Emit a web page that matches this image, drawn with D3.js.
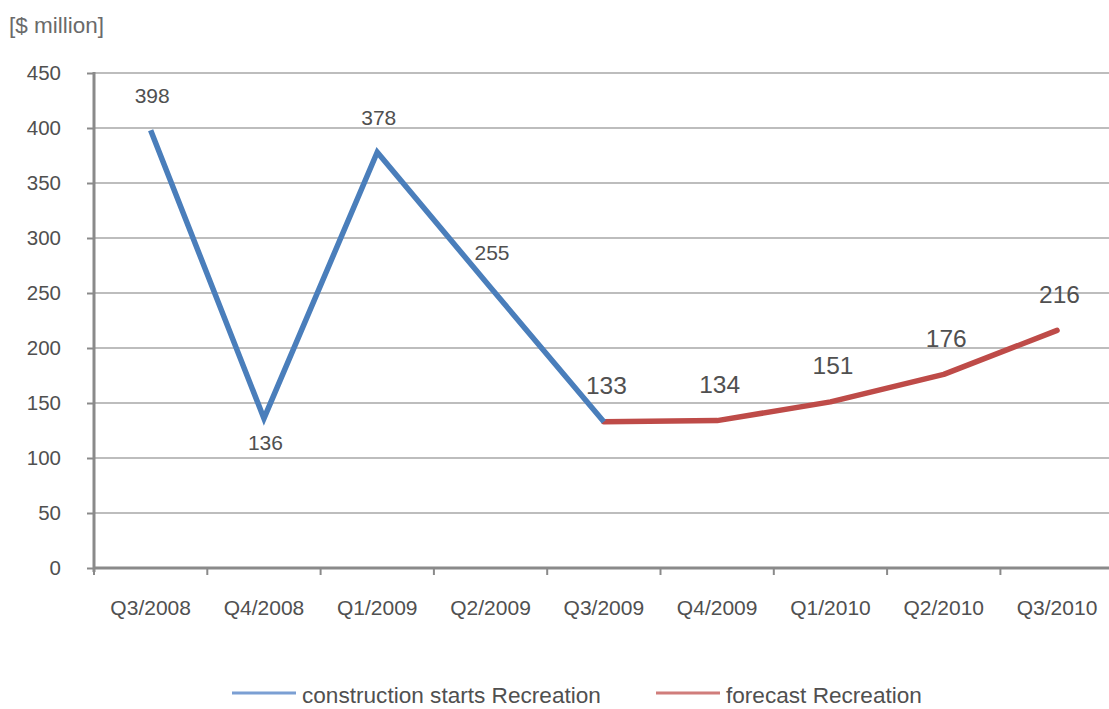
<!DOCTYPE html>
<html>
<head>
<meta charset="utf-8">
<script src="https://cdn.jsdelivr.net/npm/d3@7"></script>
<style>
  html, body { margin: 0; padding: 0; background: #fff; }
  svg { display: block; font-family: "Liberation Sans", Arial, sans-serif; }
</style>
</head>
<body>
<svg id="chart" width="1109" height="709"></svg>
<script>
// Quarterly construction starts (actual) and forecast, $ million
const quarters = ["Q3/2008", "Q4/2008", "Q1/2009", "Q2/2009", "Q3/2009",
                  "Q4/2009", "Q1/2010", "Q2/2010", "Q3/2010"];
const actualQuarters = ["Q3/2008", "Q4/2008", "Q1/2009", "Q2/2009", "Q3/2009"];
const actualValues = [398, 136, 378, 255, 133];
const forecastQuarters = ["Q3/2009", "Q4/2009", "Q1/2010", "Q2/2010", "Q3/2010"];
const forecastValues = [133, 134, 151, 176, 216];
const yTicks = [0, 50, 100, 150, 200, 250, 300, 350, 400, 450];
const seriesNames = ["construction starts Recreation", "forecast Recreation"];

const svg = d3.select("#chart");
const plotLeft = 94, plotTop = 73, plotBottom = 568;
const band = 113.3;
const plotRight = plotLeft + band * quarters.length;
const textColor = "#505050";
const axisColor = "#8a8a8a";

const x = d3.scaleBand().domain(quarters).range([plotLeft, plotRight]);
const y = d3.scaleLinear().domain([0, 450]).range([plotBottom, plotTop]);
const cx = q => x(q) + x.bandwidth() / 2;

// unit caption
svg.append("text").attr("x", 9).attr("y", 33)
  .attr("font-size", 22.5).attr("fill", "#6a6a6a").text("[$ million]");

// horizontal gridlines
svg.append("g").selectAll("line").data(yTicks.filter(d => d > 0)).join("line")
  .attr("x1", plotLeft).attr("x2", 1109)
  .attr("y1", d => y(d)).attr("y2", d => y(d))
  .attr("stroke", "#bdbdbd").attr("stroke-width", 2);

// y axis
const yAxis = svg.append("g").attr("transform", `translate(${plotLeft},0)`)
  .call(d3.axisLeft(y).tickValues(yTicks).tickSize(7).tickPadding(26));
yAxis.select(".domain").attr("stroke", axisColor).attr("stroke-width", 3)
  .attr("d", `M0,${plotTop - 1}V${plotBottom + 4}`);
yAxis.selectAll(".tick line").attr("stroke", axisColor).attr("stroke-width", 2);
yAxis.selectAll(".tick text").attr("font-size", 20.5).attr("fill", textColor)
  .attr("font-family", "Liberation Sans, Arial, sans-serif");

// x axis
const xAxis = svg.append("g").attr("transform", `translate(0,${plotBottom})`)
  .call(d3.axisBottom(x).tickSize(0).tickPadding(32));
xAxis.select(".domain").attr("stroke", axisColor).attr("stroke-width", 3)
  .attr("d", `M${plotLeft},0H1109`);
xAxis.selectAll(".tick text").attr("font-size", 21).attr("fill", textColor)
  .attr("font-family", "Liberation Sans, Arial, sans-serif");
// band boundary ticks
svg.append("g").selectAll("line").data(quarters).join("line")
  .attr("x1", d => x(d)).attr("x2", d => x(d))
  .attr("y1", plotBottom).attr("y2", plotBottom + 7)
  .attr("stroke", axisColor).attr("stroke-width", 2);

const line = d3.line().x(d => cx(d[0])).y(d => y(d[1]));
const actual = actualQuarters.map((q, i) => [q, actualValues[i]]);
const forecast = forecastQuarters.map((q, i) => [q, forecastValues[i]]);

svg.append("path").datum(forecast).attr("d", line)
  .attr("fill", "none").attr("stroke", "#be4b48").attr("stroke-width", 5.5)
  .attr("stroke-linejoin", "round").attr("stroke-linecap", "round");
svg.append("path").datum(actual).attr("d", line)
  .attr("fill", "none").attr("stroke", "#4a7ebb").attr("stroke-width", 5.5)
  .attr("stroke-linejoin", "miter");

// value labels; the shared Q3/2009 point is labelled by the forecast series
const actualOnly = actual.filter(d => !forecastQuarters.includes(d[0]));
svg.append("g").selectAll("text").data(actualOnly).join("text")
  .attr("x", d => cx(d[0]) + 1.5)
  .attr("y", (d, i) => i === 1 ? y(d[1]) + 32 : y(d[1]) - 27.5)
  .attr("text-anchor", "middle").attr("font-size", 21).attr("fill", textColor)
  .text(d => d[1]);
svg.append("g").selectAll("text").data(forecast).join("text")
  .attr("x", d => cx(d[0]) + 2.5)
  .attr("y", d => y(d[1]) - 27.5)
  .attr("text-anchor", "middle").attr("font-size", 24.5).attr("fill", textColor)
  .text(d => d[1]);

// legend
const legend = [
  { name: seriesNames[0], color: "#7b9fd3", x: 232 },
  { name: seriesNames[1], color: "#d07d7b", x: 656 }
];
const lg = svg.append("g").selectAll("g").data(legend).join("g")
  .attr("transform", d => `translate(${d.x},693)`);
lg.append("line").attr("x1", 0).attr("x2", 64).attr("y1", 0).attr("y2", 0)
  .attr("stroke", d => d.color).attr("stroke-width", 3);
lg.append("text").attr("x", 70).attr("y", 9.5)
  .attr("font-size", 22.6).attr("fill", textColor).text(d => d.name);
</script>
</body>
</html>
